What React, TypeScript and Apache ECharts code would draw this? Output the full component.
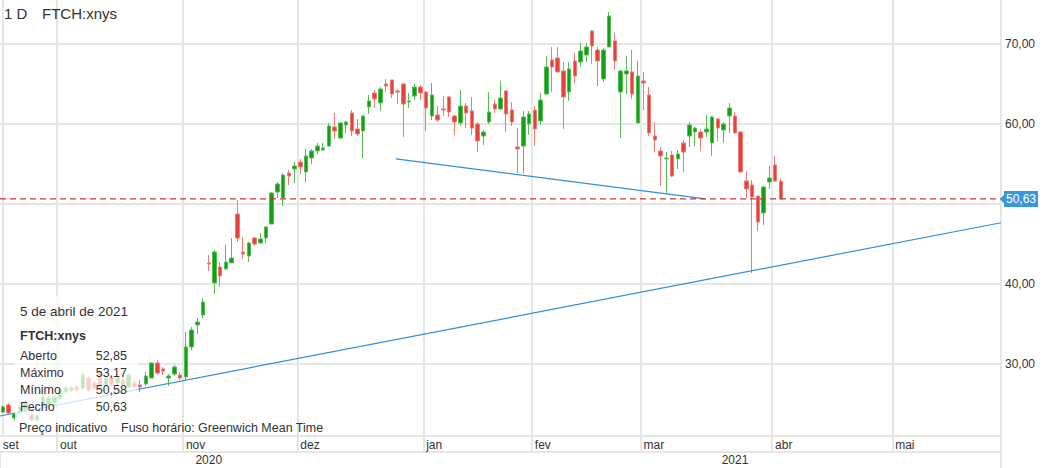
import React, { useEffect, useRef } from 'react';
import * as echarts from 'echarts';

// ---------- data ----------
const START_DATE = '2020-09-17';
const END_DATE = '2021-05-27';
const HOLIDAYS = ['2020-11-26', '2020-12-25', '2021-01-01', '2021-01-18', '2021-02-15', '2021-04-02', '2021-05-31'];
const MONTHS_PT = ['jan', 'fev', 'mar', 'abr', 'mai', 'jun', 'jul', 'ago', 'set', 'out', 'nov', 'dez'];
const YEAR_LABEL_DATES = ['2020-11-06', '2021-03-23'];

// [open, close, low, high]
const ohlcSepOct = [
  [24.0, 24.63, 23.88, 24.88], [24.88, 23.88, 23.75, 25.13], [23.25, 23.75, 23.0, 23.88], [23.88, 24.63, 23.75, 24.88],
  [24.25, 25.13, 24.0, 25.5], [23.63, 23.0, 22.9, 23.88], [23.0, 23.5, 22.9, 23.75], [24.88, 25.88, 24.5, 26.13],
  [24.88, 25.75, 24.63, 26.0], [25.13, 25.88, 24.88, 26.13], [25.75, 26.75, 25.5, 27.0], [26.5, 27.0, 26.25, 27.25],
  [26.75, 27.0, 26.5, 27.25], [27.13, 26.75, 26.5, 27.38], [27.0, 28.63, 26.75, 29.0], [28.25, 26.75, 26.5, 28.5],
  [27.63, 27.0, 26.75, 28.0], [29.0, 27.13, 27.0, 29.25], [27.38, 28.25, 27.13, 28.5], [28.38, 27.38, 27.13, 28.63],
  [27.63, 28.25, 27.38, 28.5], [28.0, 27.38, 27.13, 28.25], [27.13, 28.63, 27.0, 28.88], [27.63, 27.13, 27.0, 28.0],
  [27.38, 27.13, 26.5, 28.0], [27.5, 28.5, 27.25, 29.0], [28.25, 30.13, 28.25, 30.25], [30.13, 28.88, 28.63, 30.5],
  [29.38, 29.13, 28.63, 29.63], [28.25, 28.5, 27.25, 28.75], [28.75, 29.63, 28.5, 29.88], [28.63, 28.25, 28.0, 29.0],
];
const ohlcNovDec = [
  [28.38, 32.13, 28.0, 34.0], [32.13, 34.25, 31.75, 34.63], [34.88, 35.25, 33.75, 35.75], [36.13, 37.75, 35.75, 38.25],
  [42.63, 42.5, 41.63, 43.63], [40.13, 44.0, 38.75, 44.25], [42.13, 41.0, 39.63, 42.75], [41.88, 42.75, 41.88, 44.88],
  [42.63, 43.25, 42.63, 45.75], [48.75, 45.75, 45.25, 50.5], [44.0, 43.75, 43.13, 45.88], [43.5, 45.13, 42.75, 45.25],
  [45.75, 45.0, 44.75, 45.88], [45.13, 45.63, 45.0, 46.38], [45.75, 47.13, 45.13, 47.25], [47.5, 51.38, 47.5, 51.5],
  [51.5, 52.5, 50.75, 52.75], [50.75, 53.63, 49.75, 53.88], [53.88, 53.5, 52.38, 54.25], [54.38, 54.75, 52.63, 55.25],
  [55.25, 54.63, 53.75, 55.63], [54.0, 56.0, 52.75, 56.88], [55.75, 56.63, 55.0, 56.88], [56.63, 57.25, 56.25, 57.63],
  [56.75, 57.0, 56.63, 57.63], [57.25, 59.75, 57.13, 60.13], [59.63, 59.13, 58.13, 61.38], [58.25, 60.13, 58.13, 60.25],
  [59.88, 60.25, 58.88, 60.38], [61.38, 59.13, 58.5, 61.75], [59.38, 58.75, 58.5, 60.63], [59.13, 61.0, 55.75, 61.13],
  [62.13, 62.88, 61.25, 63.63], [63.88, 63.13, 62.0, 64.25], [62.63, 64.38, 61.63, 64.63], [65.0, 64.75, 64.0, 65.63],
  [65.5, 63.75, 63.25, 65.5], [64.13, 64.0, 62.5, 64.38], [65.0, 62.5, 58.38, 65.13], [62.75, 62.88, 62.0, 63.88],
  [63.5, 64.63, 63.0, 65.0], [64.63, 63.88, 63.0, 64.88],
];
const ohlcJan = [
  [64.0, 62.0, 59.13, 64.13], [61.0, 63.63, 60.5, 65.13], [61.13, 60.5, 60.25, 62.25], [61.88, 61.75, 61.0, 63.5],
  [63.38, 61.5, 60.88, 63.5], [61.0, 60.25, 58.63, 61.13], [60.13, 62.25, 59.75, 64.25], [62.25, 61.38, 59.5, 62.63],
  [61.63, 59.5, 58.63, 63.38], [60.0, 57.88, 56.5, 60.25], [58.5, 59.0, 57.38, 59.25], [60.25, 61.5, 60.0, 64.0],
  [62.5, 61.88, 61.38, 63.0], [61.88, 63.25, 61.75, 65.38], [64.13, 61.25, 59.0, 64.25], [61.75, 60.25, 59.75, 62.75],
  [57.13, 56.88, 53.88, 59.5], [57.25, 60.88, 53.88, 61.63], [60.0, 61.25, 58.63, 61.63],
];
const ohlcFeb = [
  [61.75, 59.38, 57.25, 62.25], [60.38, 63.0, 59.88, 63.88], [63.75, 67.13, 63.63, 68.5], [68.0, 67.13, 64.0, 69.63],
  [68.25, 66.5, 66.5, 69.63], [66.63, 63.38, 59.38, 67.75], [64.0, 66.88, 62.88, 67.75], [67.88, 66.0, 65.13, 68.88],
  [67.75, 69.13, 67.13, 70.13], [68.63, 69.63, 67.75, 70.13], [71.63, 69.75, 67.5, 71.75], [69.25, 67.88, 64.75, 69.63],
  [65.63, 69.25, 65.25, 69.5], [69.63, 73.5, 69.63, 74.0], [70.38, 67.88, 66.75, 71.38], [64.0, 66.63, 58.25, 66.75],
  [66.25, 66.63, 63.75, 68.5], [66.5, 63.75, 63.13, 69.25], [60.13, 66.0, 60.13, 67.88],
];
const ohlcMar = [
  [65.38, 65.13, 61.75, 66.5], [63.63, 58.88, 58.5, 64.63], [58.5, 58.0, 56.5, 60.25], [56.63, 56.0, 52.25, 57.13],
  [55.63, 55.75, 51.38, 56.5], [56.13, 53.5, 53.38, 56.63], [55.63, 56.25, 54.38, 56.75], [57.63, 56.5, 54.0, 58.0],
  [58.5, 59.88, 57.13, 60.25], [59.0, 59.5, 57.25, 59.63], [59.0, 58.25, 56.63, 59.38], [59.0, 59.38, 58.38, 61.13],
  [57.63, 60.88, 56.0, 61.0], [60.63, 59.5, 57.88, 60.75], [59.25, 60.0, 57.63, 60.25], [61.0, 62.0, 58.88, 62.63],
  [61.0, 58.88, 58.88, 61.5], [59.0, 54.0, 54.0, 59.13], [52.88, 51.88, 50.75, 54.13], [52.38, 50.88, 41.38, 53.0],
  [51.0, 47.75, 46.63, 51.0], [48.88, 52.13, 47.38, 52.25], [52.75, 53.25, 51.88, 54.75],
];
const ohlcApr = [
  [54.88, 52.88, 52.75, 56.0], [52.85, 50.63, 50.58, 53.17],
];

// trendlines: [trading-day index, price]
const supportLine = [[-0.5, 23.5], [174.5, 47.66]];
const necklineLine = [[68.7, 55.63], [122.8, 50.63]];

const Y_LABEL_VALUES = [30, 40, 60, 70];
const Y_GRID_VALUES = [30, 40, 50, 60, 70];

// ---------- helpers ----------
function tradingDays(start: string, end: string, holidays: string[]) {
  const out: string[] = [];
  const d = new Date(start + 'T00:00:00Z');
  const e = new Date(end + 'T00:00:00Z');
  while (d <= e) {
    const wd = d.getUTCDay();
    const s = d.toISOString().slice(0, 10);
    if (wd !== 0 && wd !== 6 && holidays.indexOf(s) < 0) out.push(s);
    d.setUTCDate(d.getUTCDate() + 1);
  }
  return out;
}
const dates = tradingDays(START_DATE, END_DATE, HOLIDAYS);
const ohlc = [...ohlcSepOct, ...ohlcNovDec, ...ohlcJan, ...ohlcFeb, ...ohlcMar, ...ohlcApr];
const last = ohlc[ohlc.length - 1];
const fmt = (v: number) => v.toFixed(2).replace('.', ',');
const priceLine = [[-0.5, last[1]], [dates.length - 0.5, last[1]]];

const isMonthStart = (i: number) => i > 0 && dates[i].slice(5, 7) !== dates[i - 1].slice(5, 7);
const isYearStart = (i: number) => i > 0 && dates[i].slice(0, 4) !== dates[i - 1].slice(0, 4);

const GRID = '#e6e6e6';
const TEXT = '#333';
const FONT = 'Arial, "Liberation Sans", sans-serif';
const UP = '#12a012';
const DOWN = '#e8413b';
const PRICE = '#d2362f';
const BLUE = '#2f8fdc';
const TAG = '#3a97dc';

export default function App() {
  const ref = useRef<HTMLDivElement>(null);
  useEffect(() => {
    document.body.style.margin = '0';
    const chart = echarts.init(ref.current!, null, { renderer: 'svg' });
    const option: any = {
      animation: false,
      textStyle: { fontFamily: FONT },
      grid: { left: 0, right: 42, top: 0, bottom: 32, containLabel: false, outerBoundsMode: 'none' },
      xAxis: [
        {
          type: 'category',
          data: dates,
          boundaryGap: true,
          axisLine: { show: true, lineStyle: { color: GRID, width: 2 } },
          axisTick: { show: true, length: 16, interval: (i: number) => isMonthStart(i), lineStyle: { color: GRID, width: 2 } },
          axisLabel: {
            show: true,
            interval: (i: number) => i === 0 || isMonthStart(i),
            formatter: (v: string) => MONTHS_PT[parseInt(v.slice(5, 7), 10) - 1],
            align: 'left',
            margin: 3,
            color: TEXT,
            fontSize: 12,
          },
          splitLine: { show: true, interval: (i: number) => isMonthStart(i), lineStyle: { color: GRID, width: 2 } },
        },
        {
          type: 'category',
          data: dates,
          boundaryGap: true,
          position: 'bottom',
          offset: 16,
          axisLine: { show: true, lineStyle: { color: GRID, width: 2 } },
          axisTick: { show: true, length: 16, interval: (i: number) => isYearStart(i), lineStyle: { color: GRID, width: 2 } },
          axisLabel: {
            show: true,
            interval: (i: number) => YEAR_LABEL_DATES.indexOf(dates[i]) >= 0,
            formatter: (v: string) => v.slice(0, 4),
            margin: 2,
            color: TEXT,
            fontSize: 12,
          },
          splitLine: { show: false },
        },
        { type: 'value', min: -0.5, max: dates.length - 0.5, show: false },
      ],
      yAxis: {
        type: 'value',
        position: 'right',
        min: 21,
        max: 75.5,
        scale: true,
        axisLine: { show: true, lineStyle: { color: GRID, width: 2 } },
        axisTick: { show: false, customValues: Y_GRID_VALUES },
        axisLabel: { customValues: Y_LABEL_VALUES, formatter: (v: number) => fmt(v), margin: 4, color: TEXT, fontSize: 12 },
        splitLine: { show: true, lineStyle: { color: GRID, width: 2 } },
      },
      series: [
        {
          type: 'candlestick',
          xAxisIndex: 0,
          yAxisIndex: 0,
          data: ohlc,
          barWidth: 4,
          itemStyle: { color: UP, color0: DOWN, borderColor: '#55bf55', borderColor0: '#f07a74', borderWidth: 1 },
        },
        {
          type: 'line', xAxisIndex: 2, yAxisIndex: 0, data: priceLine, symbol: 'none', silent: true, z: 4,
          color: PRICE,
          lineStyle: { color: PRICE, type: [6, 4], width: 1.3 },
          endLabel: {
            show: true,
            distance: 3,
            formatter: () => fmt(last[1]),
            backgroundColor: TAG,
            color: '#fff',
            fontSize: 12,
            padding: [2, 2, 2, 2],
          },
        },
        {
          type: 'line', xAxisIndex: 2, yAxisIndex: 0, data: supportLine, symbol: 'none', silent: true,
          lineStyle: { color: BLUE, width: 1.2 }, z: 3,
        },
        {
          type: 'line', xAxisIndex: 2, yAxisIndex: 0, data: necklineLine, symbol: 'none', silent: true,
          lineStyle: { color: BLUE, width: 1.2 }, z: 3,
        },
      ],
    };
    chart.setOption(option);
    const yTag = chart.convertToPixel({ yAxisIndex: 0 }, last[1]) as number;
    const t = (text: string, x: number, y: number, extra: any = {}) => ({
      type: 'text', x, y, z: 60,
      style: { text, fill: TEXT, font: `12.5px ${FONT}`, textVerticalAlign: 'middle', verticalAlign: 'middle', ...extra },
    });
    chart.setOption({
      graphic: {
        elements: [
          t('1 D', 4, 13, { font: `15px ${FONT}` }),
          t('FTCH:xnys', 42, 13, { font: `15px ${FONT}` }),
          { type: 'rect', z: 50, shape: { x: 15, y: 296, width: 123, height: 126 }, style: { fill: 'rgba(255,255,255,0.72)' } },
          t('5 de abril de 2021', 20, 311, { font: `13.5px ${FONT}` }),
          t('FTCH:xnys', 20, 336, { font: `bold 12.5px ${FONT}` }),
          t('Aberto', 20, 355.5),
          t('Máximo', 20, 373),
          t('Mínimo', 20, 390),
          t('Fecho', 20, 407),
          t(fmt(last[0]), 127, 355.5, { textAlign: 'right', align: 'right' }),
          t(fmt(last[3]), 127, 373, { textAlign: 'right', align: 'right' }),
          t(fmt(last[2]), 127, 390, { textAlign: 'right', align: 'right' }),
          t(fmt(last[1]), 127, 407, { textAlign: 'right', align: 'right' }),
          t('Preço indicativo', 19, 427.5),
          t('Fuso horário: Greenwich Mean Time', 121, 427.5),
          { type: 'line', z: 10, shape: { x1: 1001, y1: 436, x2: 1001, y2: 468 }, style: { stroke: GRID, lineWidth: 2 } },
          { type: 'polygon', z: 60, shape: { points: [[1000, yTag], [1004.5, yTag - 5], [1004.5, yTag + 5]] }, style: { fill: TAG } },
        ],
      },
    });
    return () => chart.dispose();
  }, []);
  return <div ref={ref} style={{ position: 'absolute', left: 0, top: 0, width: 1043, height: 468 }} />;
}
